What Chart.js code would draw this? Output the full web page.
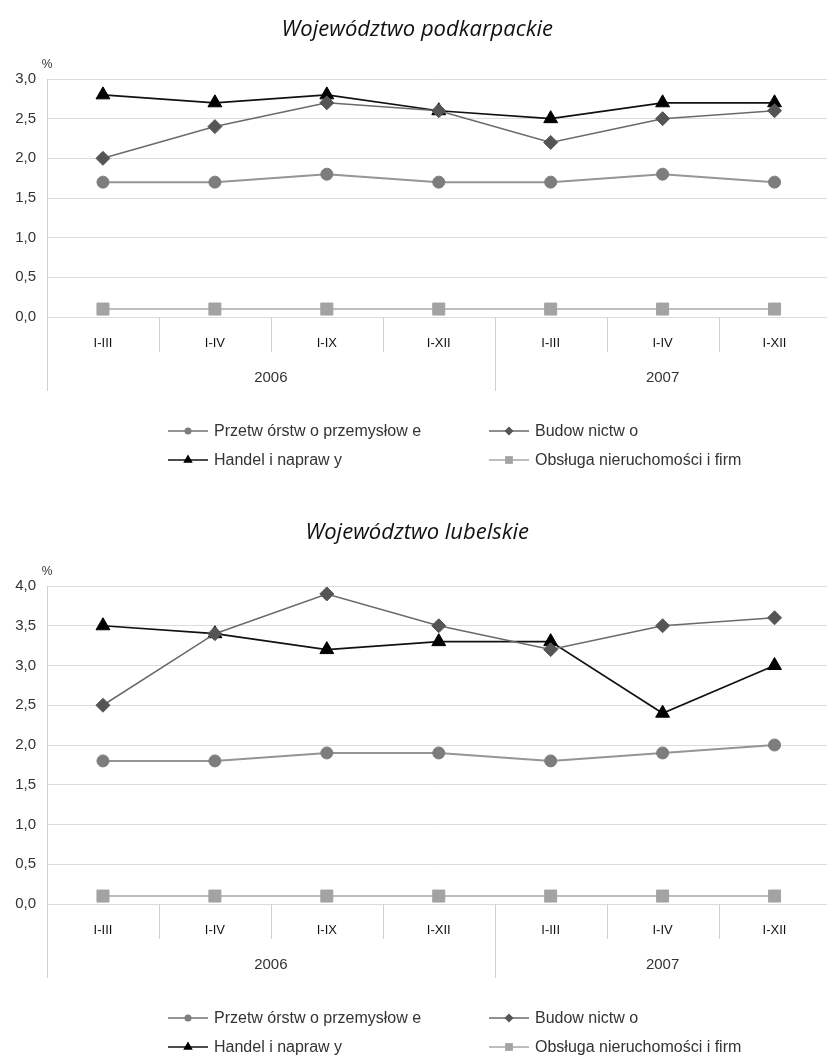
<!DOCTYPE html>
<html>
<head>
<meta charset="utf-8">
<script src="https://cdn.jsdelivr.net/npm/chart.js@4.4.0/dist/chart.umd.min.js"></script>
<style>
  html, body { margin: 0; padding: 0; background: #fff; }
  #wrap { position: relative; width: 827px; height: 1057px; overflow: hidden; }
  canvas { position: absolute; left: 0; }
</style>
</head>
<body>
<div id="wrap">
  <canvas id="c1" width="840" height="500" style="top:0"></canvas>
  <canvas id="c2" width="840" height="557" style="top:500px"></canvas>
</div>
<script>
// Okresy i lata (dwupoziomowa oś X)
const okresy = ['I-III', 'I-IV', 'I-IX', 'I-XII', 'I-III', 'I-IV', 'I-XII'];
const lata = ['2006', '2007'];
const okresyWRoku = [4, 3];
const nazwySerii = ['Przetw órstw o przemysłow e', 'Budow nictw o', 'Handel i napraw y', 'Obsługa nieruchomości i firm'];

// Województwo podkarpackie (%)
const podkarpackiePrzetworstwo = [1.7, 1.7, 1.8, 1.7, 1.7, 1.8, 1.7];
const podkarpackieBudownictwo = [2.0, 2.4, 2.7, 2.6, 2.2, 2.5, 2.6];
const podkarpackieHandel = [2.8, 2.7, 2.8, 2.6, 2.5, 2.7, 2.7];
const podkarpackieObsluga = [0.1, 0.1, 0.1, 0.1, 0.1, 0.1, 0.1];

// Województwo lubelskie (%)
const lubelskiePrzetworstwo = [1.8, 1.8, 1.9, 1.9, 1.8, 1.9, 2.0];
const lubelskieBudownictwo = [2.5, 3.4, 3.9, 3.5, 3.2, 3.5, 3.6];
const lubelskieHandel = [3.5, 3.4, 3.2, 3.3, 3.3, 2.4, 3.0];
const lubelskieObsluga = [0.1, 0.1, 0.1, 0.1, 0.1, 0.1, 0.1];

const FONT = '"Liberation Sans", Arial, sans-serif';

// wygląd serii
const styleSerii = [
  { line: '#959595', fill: '#7d7d7d', point: 'circle', r: 6, w: 2, lr: 3.5 },
  { line: '#6a6a6a', fill: '#555555', point: 'rectRot', r: 7, w: 1.5, lr: 4.5 },
  { line: '#111111', fill: '#000000', point: 'triangle', r: 8, w: 1.7, lr: 5.5 },
  { line: '#bdbdbd', fill: '#a3a3a3', point: 'rect', r: 8.5, w: 2, lr: 5.5 }
];

function znacznik(ctx, typ, x, y, r) {
  ctx.beginPath();
  if (typ === 'circle') {
    ctx.arc(x, y, r, 0, Math.PI * 2);
  } else if (typ === 'rectRot') {
    ctx.moveTo(x, y - r); ctx.lineTo(x + r, y); ctx.lineTo(x, y + r); ctx.lineTo(x - r, y);
  } else if (typ === 'triangle') {
    ctx.moveTo(x, y - r); ctx.lineTo(x + 0.866 * r, y + 0.5 * r); ctx.lineTo(x - 0.866 * r, y + 0.5 * r);
  } else {
    const s = r * 0.707;
    ctx.rect(x - s, y - s, 2 * s, 2 * s);
  }
  ctx.closePath();
  ctx.fill();
}

// podziałki okresów, lata, znak %, legenda
const dodatki = {
  id: 'dodatki',
  afterDraw(chart) {
    const ctx = chart.ctx, xs = chart.scales.x, a = chart.chartArea;
    const half = (xs.getPixelForValue(1) - xs.getPixelForValue(0)) / 2;
    const granice = [0];
    okresyWRoku.forEach(n => granice.push(granice[granice.length - 1] + n));
    ctx.save();
    ctx.strokeStyle = '#d0d0d0';
    ctx.lineWidth = 1;
    for (let i = 0; i <= okresy.length; i++) {
      const px = Math.round(xs.getPixelForValue(i) - half) + 0.5;
      const len = granice.includes(i) ? 74 : 35;
      ctx.beginPath();
      ctx.moveTo(px, a.bottom);
      ctx.lineTo(px, a.bottom + len);
      ctx.stroke();
    }
    ctx.fillStyle = '#333';
    ctx.textAlign = 'center';
    ctx.textBaseline = 'middle';
    ctx.font = '15px ' + FONT;
    lata.forEach((rok, k) => {
      const c = (xs.getPixelForValue(granice[k]) + xs.getPixelForValue(granice[k + 1] - 1)) / 2;
      ctx.fillText(rok, c, a.bottom + 61);
    });
    ctx.font = '12px ' + FONT;
    ctx.fillText('%', a.left, a.top - 14);

    // legenda 2 x 2
    const kol = [168, 489];
    const wiersz = [a.bottom + 114, a.bottom + 143];
    ctx.font = '16px ' + FONT;
    ctx.textAlign = 'left';
    nazwySerii.forEach((nazwa, i) => {
      const st = styleSerii[i];
      const lx = kol[i % 2], ly = wiersz[Math.floor(i / 2)];
      ctx.strokeStyle = st.line;
      ctx.lineWidth = st.w;
      ctx.beginPath();
      ctx.moveTo(lx, ly);
      ctx.lineTo(lx + 40, ly);
      ctx.stroke();
      ctx.fillStyle = st.fill;
      znacznik(ctx, st.point, lx + 20, ly, st.lr);
      ctx.fillStyle = '#333';
      ctx.fillText(nazwa, lx + 46, ly + 1);
    });
    ctx.restore();
  }
};

function wykres(id, tytul, serie, maks, tytulTop, tytulBottom, dol) {
  new Chart(document.getElementById(id), {
    type: 'line',
    data: {
      labels: okresy,
      datasets: serie.map((dane, i) => ({
        label: nazwySerii[i],
        data: dane,
        borderColor: styleSerii[i].line,
        borderWidth: styleSerii[i].w,
        pointStyle: styleSerii[i].point,
        pointRadius: styleSerii[i].r,
        pointBackgroundColor: styleSerii[i].fill,
        pointBorderColor: styleSerii[i].fill,
        pointBorderWidth: 1,
        tension: 0,
        fill: false
      }))
    },
    options: {
      responsive: false,
      animation: false,
      layout: { padding: { left: 0, right: 5.5, top: 0, bottom: dol } },
      plugins: {
        legend: { display: false },
        tooltip: { enabled: false },
        title: {
          display: true,
          text: tytul,
          color: '#111',
          font: { family: '"Open Sans", sans-serif', style: 'italic', weight: 'normal', size: 22, lineHeight: 1.2 },
          padding: { top: tytulTop, bottom: tytulBottom }
        }
      },
      scales: {
        x: {
          offset: true,
          grid: { display: false },
          border: { display: false },
          ticks: { color: '#111', font: { family: FONT, size: 13 }, padding: 11, maxRotation: 0 },
          afterFit: s => { s.height = 100; }
        },
        y: {
          min: 0,
          max: maks,
          ticks: {
            stepSize: 0.5,
            color: '#333',
            padding: 11,
            font: { family: FONT, size: 15 },
            callback: v => v.toFixed(1).replace('.', ',')
          },
          grid: { color: '#dcdcdc', drawTicks: false },
          border: { display: true, color: '#d0d0d0' },
          afterFit: s => { s.width = 47; }
        }
      }
    },
    plugins: [dodatki]
  });
}

wykres('c1', 'Województwo podkarpackie',
  [podkarpackiePrzetworstwo, podkarpackieBudownictwo, podkarpackieHandel, podkarpackieObsluga],
  3, 16.8, 35.8, 83);
wykres('c2', 'Województwo lubelskie',
  [lubelskiePrzetworstwo, lubelskieBudownictwo, lubelskieHandel, lubelskieObsluga],
  4, 19.8, 39.8, 53);
</script>
</body>
</html>
